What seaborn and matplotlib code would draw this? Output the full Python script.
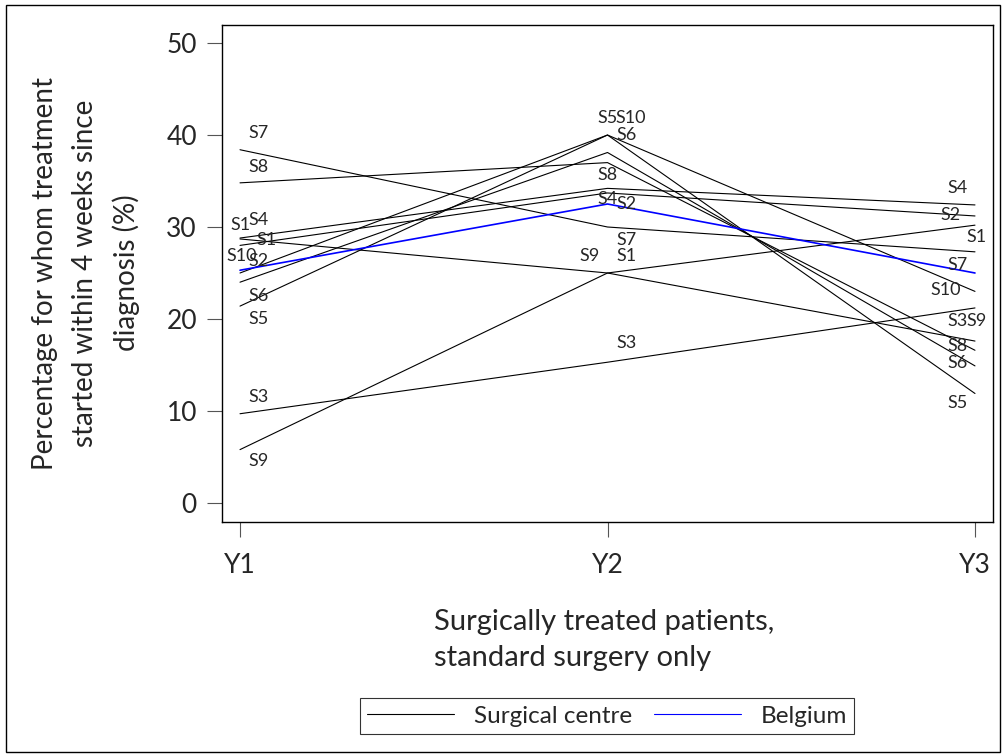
import pandas as pd
import matplotlib.pyplot as plt
import seaborn as sns
from matplotlib.patches import Rectangle
from matplotlib.lines import Line2D

# Values
years = ['Y1', 'Y2', 'Y3']
centres = ['S1', 'S2', 'S3', 'S4', 'S5', 'S6', 'S7', 'S8', 'S9', 'S10']
s1 = [28.7, 25.0, 30.2]
s2 = [28.0, 33.7, 31.2]
s3 = [9.7, 15.3, 21.2]
s4 = [28.8, 34.2, 32.4]
s5 = [21.4, 40.0, 11.9]
s6 = [24.0, 38.1, 14.9]
s7 = [38.4, 30.0, 27.3]
s8 = [34.8, 37.0, 16.6]
s9 = [5.8, 25.0, 17.6]
s10 = [25.0, 40.0, 23.0]
belgium = [25.3, 32.5, 25.0]

centre_values = [s1, s2, s3, s4, s5, s6, s7, s8, s9, s10]

rows = []
for name, vals in zip(centres, centre_values):
    for yr, v in zip(years, vals):
        rows.append({'year': yr, 'pct': v, 'unit': name, 'group': 'Surgical centre'})
for yr, v in zip(years, belgium):
    rows.append({'year': yr, 'pct': v, 'unit': 'BE', 'group': 'Belgium'})
df = pd.DataFrame(rows)

# label offsets (pixels) from each centre's point: (centre, year index, dx, dy)
label_offsets = [
    ('S7', 0, 8, 17), ('S8', 0, 8, 16), ('S4', 0, 8, 18), ('S1', 0, -10, 14),
    ('S1', 0, 16, -1), ('S10', 0, -14, 17), ('S2', 0, 8, -16), ('S6', 0, 8, -14),
    ('S5', 0, 8, -13), ('S3', 0, 8, 17), ('S9', 0, 8, -11),
    ('S5', 1, -10, 17), ('S10', 1, 8, 17), ('S6', 1, 9, 17), ('S8', 1, -10, -12),
    ('S4', 1, -10, -11), ('S2', 1, 9, -11), ('S7', 1, 9, -13), ('S9', 1, -28, 17),
    ('S1', 1, 9, 17), ('S3', 1, 9, 19),
    ('S4', 2, -28, 17), ('S2', 2, -35, 1), ('S1', 2, -9, -12), ('S7', 2, -28, -13),
    ('S10', 2, -45, 1), ('S3', 2, -28, -13), ('S9', 2, -9, 20), ('S8', 2, -28, 4),
    ('S6', 2, -28, 3), ('S5', 2, -28, -10),
]

sns.set_style('white')
plt.rcParams['font.family'] = ['Lato', 'DejaVu Sans']

fig = plt.figure(figsize=(10.03, 7.56), dpi=100)
ax = fig.add_axes([222 / 1003, 1 - 522 / 756, (993 - 222) / 1003, (522 - 25) / 756])

sns.lineplot(data=df, x='year', y='pct', hue='group', units='unit', estimator=None,
             palette={'Surgical centre': 'black', 'Belgium': 'blue'},
             linewidth=0.8, legend=False, ax=ax)
for line in ax.lines:
    if line.get_color() == 'blue':
        line.set_linewidth(1.2)

px = 0.72  # pixels -> points
for name, i, dx, dy in label_offsets:
    val = centre_values[centres.index(name)][i]
    ax.annotate(name, (i, val), xytext=(dx * px, dy * px), textcoords='offset points',
                ha='left', va='center', fontsize=13)

ax.set_xlim(-0.049, 2.049)
ax.set_ylim(-2.07, 51.96)
ax.set_yticks([0, 10, 20, 30, 40, 50])
ax.set_xlabel('')
ax.set_ylabel('')
ax.tick_params(axis='both', direction='out', length=11, width=0.8, labelsize=19,
               left=True, bottom=True, color='#555555')
ax.tick_params(axis='y', pad=7)
ax.tick_params(axis='x', pad=11)
for sp in ax.spines.values():
    sp.set_color('black')
    sp.set_linewidth(1.0)

fig.text(86 / 1003, 1 - 273 / 756,
         'Percentage for whom treatment\nstarted within 4 weeks since\ndiagnosis (%)',
         rotation=90, ha='center', va='center', multialignment='center',
         fontsize=20, linespacing=1.65)
fig.text(604 / 1003, 1 - 640 / 756,
         'Surgically treated patients,\nstandard surgery only',
         ha='center', va='center', multialignment='left', fontsize=21, linespacing=1.5)

handles = [Line2D([], [], color='black', linewidth=0.8),
           Line2D([], [], color='blue', linewidth=0.8)]
leg = fig.legend(handles, ['Surgical centre', 'Belgium'], loc='center',
                 bbox_to_anchor=(607 / 1003, 1 - 716 / 756), ncol=2, fontsize=17.5,
                 frameon=True, fancybox=False, handlelength=3.6, columnspacing=0.9,
                 borderpad=0.3, handletextpad=0.8, borderaxespad=0)
leg.get_frame().set_edgecolor('black')
leg.get_frame().set_linewidth(0.8)

fig.patches.append(Rectangle((6 / 1003, 4 / 756), 994 / 1003, 747 / 756,
                             transform=fig.transFigure, fill=False,
                             edgecolor='black', linewidth=1.0))

fig.savefig('out.png', dpi=100)
